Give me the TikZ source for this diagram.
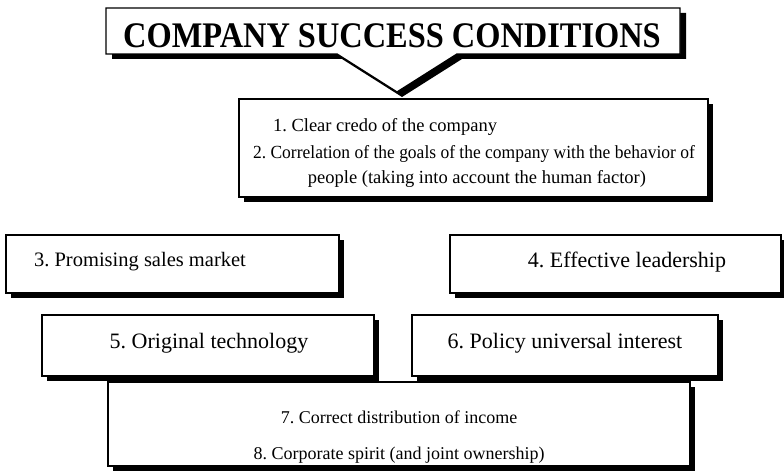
\documentclass[tikz,border=0pt]{standalone}
\usepackage{fontspec}
\setmainfont{Liberation Serif}
\usetikzlibrary{shadows}
\frenchspacing
\begin{document}
\begin{tikzpicture}[x=1pt,y=-1pt,
  card/.style={draw=black, line width=1.4pt, fill=white, inner sep=0pt,
    drop shadow={shadow xshift=5pt, shadow yshift=-5pt, opacity=1, fill=black}},
  label/.style={inner sep=0pt, align=center, font=#1},
  label/.default={\fontsize{22}{26}\selectfont}]
\useasboundingbox (0,0) rectangle (784,473);
\clip (0,0) rectangle (784,473);

% title callout with downward pointer and its shadow
\fill[black] (112,13) -- (686,13) -- (686,59) -- (462,59) -- (402,97) -- (342,59) -- (112,59) -- cycle;
\draw[line width=1.4pt, fill=white] (106,8) -- (680,8) -- (680,54) -- (457,54) -- (397,92) -- (337,54) -- (106,54) -- cycle;
\node[label={\bfseries\fontsize{36}{40}\selectfont}, xscale=0.9] (title) at (392,36) {COMPANY SUCCESS CONDITIONS};

% conditions 1 and 2
\node[card, minimum width=469pt, minimum height=98pt] (b12) at (473.5,148) {};
\node[label={\fontsize{18.5}{22}\selectfont}] (l1) at (385,127) {1. Clear credo of the company};
\node[label={\fontsize{18.5}{22}\selectfont}, xscale=0.945] (l2) at (474,154) {2. Correlation of the goals of the company with the behavior of};
\node[label={\fontsize{18.5}{22}\selectfont}] (l2b) at (477,179) {people (taking into account the human factor)};

% conditions 3 and 4
\node[card, minimum width=333pt, minimum height=58pt] (b3) at (172.5,264) {};
\node[label={\fontsize{20.5}{24}\selectfont}] (t3) at (140,262) {3. Promising sales market};
\node[card, minimum width=331pt, minimum height=58pt] (b4) at (615.5,264) {};
\node[label] (t4) at (627,262) {4. Effective leadership};

% conditions 5 and 6
\node[card, minimum width=332pt, minimum height=61pt] (b5) at (208,345.5) {};
\node[label] (t5) at (209,343) {5. Original technology};
\node[card, minimum width=306pt, minimum height=61pt] (b6) at (565,345.5) {};
\node[label] (t6) at (565,343) {6. Policy universal interest};

% conditions 7 and 8; the last line runs into the lower border
\node[card, minimum width=582pt, minimum height=84pt] (b78) at (399,424) {};
\node[label={\fontsize{18}{22}\selectfont}] (t7) at (399,417) {7. Correct distribution of income};
\node[label={\fontsize{18}{22}\selectfont}] (t8) at (399,455) {8. Corporate spirit (and joint ownership)};
\draw[line width=1.4pt] (b78.south west) -- (b78.south east);
\end{tikzpicture}
\end{document}
